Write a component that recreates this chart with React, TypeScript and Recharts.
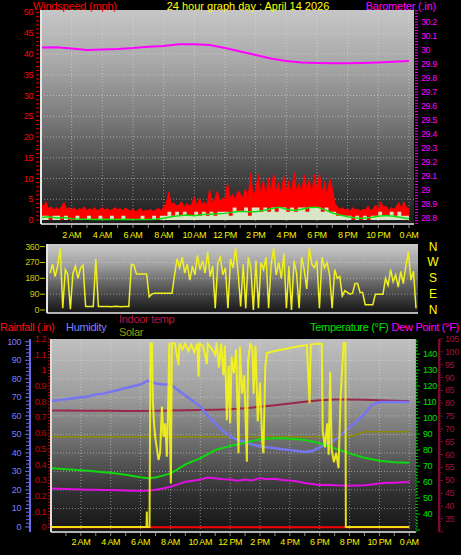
import React from 'react';
import { ComposedChart, Line, Area, XAxis, YAxis, CartesianGrid } from 'recharts';

const FONT = 'Arial, "Liberation Sans", Helvetica, sans-serif';

// ---------------- Panel 1: wind & barometer ----------------
// wind gust, every 10 minutes from 0:00 to 24:00 (mph)
const gustValues = [
  4.2, 3.0, 4.4, 2.6, 3.2, 2.4,
  3.0, 2.5, 3.2, 4.2, 2.6, 3.0,
  2.4, 3.0, 2.2, 2.8, 2.5, 3.2,
  2.2, 2.8, 2.4, 3.0, 2.2, 2.6,
  3.0, 2.4, 2.8, 2.2, 2.6, 3.0,
  2.4, 2.8, 2.2, 3.0, 2.5, 2.2,
  2.6, 2.0, 2.4, 2.8, 2.0, 2.4,
  2.2, 2.6, 2.0, 2.5, 2.8, 2.2,
  3.2, 4.0, 6.8, 3.6, 4.2, 3.4,
  3.6, 4.4, 3.0, 4.0, 3.4, 3.8,
  5.6, 3.4, 5.2, 3.8, 4.4, 3.6,
  7.4, 4.2, 5.0, 7.0, 4.6, 5.2,
  5.0, 8.8, 5.4, 6.2, 4.8, 7.0,
  6.4, 5.2, 7.6, 5.0, 11.2, 6.0,
  7.0, 11.0, 6.0, 9.6, 5.6, 10.2,
  6.8, 11.2, 7.0, 9.0, 5.8, 10.6,
  7.2, 9.4, 6.0, 11.4, 7.0, 8.8,
  6.6, 10.8, 7.4, 9.8, 6.2, 11.0,
  7.2, 11.2, 6.4, 9.2, 5.8, 10.0,
  7.6, 4.0, 3.2, 2.6, 3.0, 2.4,
  2.8, 2.2, 3.0, 2.4, 2.6, 2.2,
  2.6, 2.4, 3.4, 2.2, 2.8, 3.6,
  2.6, 4.4, 3.0, 3.4, 2.4, 3.0,
  2.6, 3.2, 4.2, 2.8, 4.4, 3.0,
  2.8,
];
// wind speed, every 15 minutes (mph)
const windSpeedValues = [
  1, 1, 0, 1, 1, 0, 1, 0, 0, 1, 0, 0, 1, 0, 0, 1,
  0, 0, 1, 0, 0, 1, 0, 0, 0, 0, 1, 0, 0, 1, 0, 1,
  1, 2, 1, 2, 1, 2, 1, 1, 2, 1, 2, 1, 2, 1, 2, 2,
  2, 1, 3, 2, 2, 3, 1, 3, 3, 2, 3, 2, 3, 2, 3, 3,
  2, 3, 2, 3, 3, 2, 3, 3, 3, 2, 3, 2, 2, 1, 1, 1,
  1, 0, 1, 0, 1, 0, 1, 1, 2, 1, 1, 2, 1, 2, 1, 1,
  1,
];
// average wind, every 30 minutes (mph)
const windAvgValues = [
  0.6, 0.8, 0.5, 0.6, 0.3, 0.2, 0.2, 0.1, 0.2, 0.1, 0.1, 0.2, 0.1, 0.1, 0.1, 0.2,
  0.4, 0.8, 1.0, 1.2, 1.0, 1.3, 1.4, 1.5, 1.6, 1.9, 2.1, 2.0, 2.0, 2.3, 2.7, 3.1,
  2.6, 2.3, 2.6, 3.0, 3.1, 2.5, 1.7, 1.2, 0.8, 0.5, 0.4, 0.6, 0.9, 1.1, 0.9, 0.6,
  0.3,
];
const baroTimes = [0, 1, 2, 3, 4, 5, 6, 7, 8, 9, 10, 11, 12, 13, 14, 15, 16, 17, 18, 19, 20, 21, 22, 23, 24];
const baroValues = [
  30.018, 30.02, 30.011, 30.0, 30.004, 30.007, 30.014, 30.024, 30.029, 30.041, 30.041, 30.036,
  30.014, 29.989, 29.964, 29.939, 29.921, 29.911, 29.907, 29.905, 29.905, 29.907, 29.911, 29.916, 29.921,
];

// ---------------- Panel 2: wind direction ----------------
// every 10 minutes (degrees)
const dirValues = [
  210, 260, 190, 250, 350, 10,
  230, 200, 5, 210, 250, 180,
  240, 255, 20, 20, 20, 20,
  290, 20, 20, 20, 20, 20,
  18, 20, 22, 20, 18, 20,
  20, 20, 260, 255, 205, 205,
  205, 205, 205, 75, 90, 95,
  95, 95, 95, 95, 95, 95,
  95, 200, 290, 240, 300, 210,
  260, 170, 250, 200, 310, 230,
  280, 210, 330, 190, 250, 10,
  270, 300, 200, 240, 10, 290,
  240, 355, 210, 20, 260, 10,
  300, 240, 0, 280, 10, 270,
  230, 300, 10, 260, 350, 200,
  270, 180, 320, 10, 250, 0,
  280, 210, 10, 300, 230, 120,
  355, 260, 240, 280, 10, 300,
  240, 270, 200, 10, 230, 180,
  190, 80, 110, 100, 90, 95,
  150, 150, 100, 100, 30, 30,
  30, 30, 90, 90, 90, 90,
  180, 140, 230, 160, 200, 130,
  220, 150, 250, 330, 170, 220,
  10,
];
const dirTicks = [0, 90, 180, 270, 360];
const dirLetters = ['N', 'E', 'S', 'W', 'N'];

// ---------------- Panel 3: climate ----------------
// every 30 minutes
const humidityValues = [
  68, 68.5, 69, 69.5, 70, 70.5, 71.5, 72, 73, 74, 75, 76, 77, 79, 77.5, 77,
  77, 74, 71, 68, 65, 60, 56, 52, 49, 47, 46, 44.5, 43.5, 43, 42.5, 42,
  41.5, 41, 40.5, 41, 43, 45, 47, 50, 54, 57, 61, 66, 67.5, 67.5, 67.5, 67.5,
  67.5,
];
const temperatureValues = [
  68.6, 68.3, 68, 67.7, 67.3, 67, 66.5, 66.1, 65.8, 65.2, 64.5, 63.8, 63, 62.4, 62.8, 64,
  65.4, 68, 71, 73, 74.8, 77.5, 80, 81.3, 82.5, 83.6, 84.6, 85.7, 86.7, 87, 87.3, 87.3,
  87.1, 86.8, 86.2, 85.3, 84.2, 82.7, 81, 79.5, 77.9, 76.5, 75.2, 74.2, 73.3, 72.8, 72.4, 72.2,
  72,
];
const dewPointValues = [
  56, 55.8, 55.6, 55.5, 55.3, 55.2, 55.1, 55, 55, 54.8, 54.7, 54.6, 54.6, 54.7, 55.2, 56,
  57, 58.5, 60.2, 60.8, 61.5, 62.8, 62.3, 61.8, 61.5, 60.8, 61.6, 61, 62.5, 61.7, 62, 61.2,
  61, 60.3, 59.4, 58.8, 58.2, 58.3, 58, 57.8, 57.7, 57.8, 58, 58.5, 59, 59.5, 59.6, 59.8,
  60,
];
// hourly
const indoorValues = [
  77.2, 77.2, 77.1, 77.1, 77.1, 77.0, 77.0, 77.1, 77.2, 77.3, 77.4, 77.5, 77.7,
  78.1, 78.6, 79.2, 79.9, 80.6, 81.2, 81.5, 81.5, 81.4, 81.2, 81.0, 80.8,
];
const solarLevelValues = [
  48.7, 48.7, 48.7, 48.7, 48.7, 48.7, 48.7, 48.7, 48.7, 48.7, 48.7, 48.7, 48.7,
  48.7, 48.7, 48.7, 48.7, 48.7, 48.7, 48.7, 48.7, 51.4, 51.4, 51.4, 51.4,
];
const rainTimes = [0, 24];
const rainValues = [0, 0];
const solarTimes = [
  0, 6.4, 6.42, 6.44, 6.6, 6.66, 6.76, 6.82, 6.9, 6.98, 7.1, 7.2, 7.31, 7.43, 7.54,
  7.65, 7.76, 7.87, 7.92, 7.97, 8.03, 8.1, 8.3, 8.54, 8.6, 8.8, 9.0, 9.2, 9.4, 9.6,
  9.8, 9.88, 9.95, 10.2, 10.44, 10.5, 10.8, 11.0, 11.1, 11.25, 11.4, 11.55, 11.65, 11.78, 11.9,
  12.0, 12.1, 12.25, 12.4, 12.56, 12.65, 12.8, 12.95, 13.12, 13.2, 13.35, 13.5, 13.57, 13.7, 13.85,
  14.0, 14.15, 14.23, 14.35, 14.46, 15, 15.5, 16, 16.5, 17.14, 17.32, 17.4, 17.8, 18.14, 18.2,
  18.35, 18.5, 18.6, 18.7, 18.8, 18.95, 19.1, 19.26, 19.4, 19.6, 19.72, 19.75, 24,
];
const solarValues = [
  0, 0, 83, 0, 0, 993, 990, 685, 560, 487, 420, 362, 400, 650, 487,
  560, 380, 740, 993, 500, 236, 993, 990, 874, 993, 960, 990, 950, 985, 945,
  990, 811, 990, 975, 880, 990, 960, 930, 995, 860, 990, 820, 980, 577, 870,
  560, 920, 830, 960, 398, 975, 720, 820, 352, 900, 993, 960, 720, 980, 570,
  780, 460, 398, 860, 939, 950, 958, 966, 974, 982, 668, 985, 990, 988, 520,
  430, 560, 390, 838, 418, 350, 400, 318, 700, 993, 993, 0, 0,
];

// ---------------- axis labels ----------------
const xLabelHours = [2, 4, 6, 8, 10, 12, 14, 16, 18, 20, 22, 24];
const xLabels = ['2 AM', '4 AM', '6 AM', '8 AM', '10 AM', '12 PM', '2 PM', '4 PM', '6 PM', '8 PM', '10 PM', '0 AM'];

// ---------------- helpers ----------------
const stepped = (values: number[], step: number) => values.map((v, i) => ({ t: i * step, v }));
const paired = (times: number[], values: number[]) => times.map((t, i) => ({ t, v: values[i] }));
const range = (from: number, to: number, step: number) => {
  const out: number[] = [];
  for (let k = Math.round(from / step); k <= Math.round(to / step); k++) out.push(+(k * step).toFixed(4));
  return out;
};

const gustData = stepped(gustValues, 1 / 6);
const windSpeedData = stepped(windSpeedValues, 0.25);
const windAvgData = stepped(windAvgValues, 0.5);
const baroData = paired(baroTimes, baroValues);
const dirData = stepped(dirValues, 1 / 6);
const humidityData = stepped(humidityValues, 0.5);
const temperatureData = stepped(temperatureValues, 0.5);
const dewPointData = stepped(dewPointValues, 0.5);
const indoorData = stepped(indoorValues, 1);
const solarLevelData = stepped(solarLevelValues, 1);
const rainData = paired(rainTimes, rainValues);
const solarData = paired(solarTimes, solarValues);

const hourTicks = range(1, 24, 1);
const xLabelMap: Record<number, string> = {};
xLabelHours.forEach((h, i) => { xLabelMap[h] = xLabels[i]; });

const windTicks = range(0, 50, 1);
const baroTicks = range(28.76, 30.28, 0.02);
const rainTicks = range(0, 1.2, 0.02);
const humTicks = range(0, 100, 2);
const tempTicks = range(30, 148, 2);
const indoorTicks = range(30, 105, 1);

const txt = { fontFamily: FONT, fontSize: 9, letterSpacing: -0.4 } as const;

const makeXTick = (labelOffset: number) => (p: any) => {
  const h = p.payload.value;
  const label = xLabelMap[h];
  return (
    <g>
      <line x1={p.x} x2={p.x} y1={p.y + 1} y2={p.y + 4} stroke="#8c8c8c" />
      {label && (
        <text x={p.x} y={p.y + labelOffset} textAnchor="middle" dominantBaseline="central" fill="#f2f200" {...txt}>
          {label}
        </text>
      )}
    </g>
  );
};

const windTick = (p: any) => {
  const v = p.payload.value;
  const major = v % 5 === 0;
  return (
    <g>
      <line x1={p.x - 5} x2={p.x - 2} y1={p.y} y2={p.y} stroke="#e00000" />
      {major && (
        <text x={p.x - 8} y={p.y} textAnchor="end" dominantBaseline="central" fill="#ff0000" {...txt}>{v}</text>
      )}
    </g>
  );
};

const baroTick = (p: any) => {
  const k = Math.round(p.payload.value * 100);
  const major = k % 10 === 0;
  return (
    <g>
      <line x1={p.x + 1} x2={p.x + 4} y1={p.y} y2={p.y} stroke="#ff00ff" />
      {major && (
        <text x={p.x + 7} y={p.y} dominantBaseline="central" fill="#ff00ff" {...txt}>{String(k / 100)}</text>
      )}
    </g>
  );
};

const dirTick = (p: any) => (
  <g>
    <line x1={p.x - 7} x2={p.x - 2} y1={p.y} y2={p.y} stroke="#c8c800" />
    <text x={p.x - 8} y={p.y} textAnchor="end" dominantBaseline="central" fill="#c8c800" {...txt}>{p.payload.value}</text>
  </g>
);

const dirLetterTick = (p: any) => {
  const idx = dirTicks.indexOf(p.payload.value);
  return (
    <text x={p.x + 15} y={p.y} textAnchor="middle" dominantBaseline="central" fill="#ffff00" fontFamily={FONT} fontSize={12}>
      {dirLetters[idx]}
    </text>
  );
};

const rainTick = (p: any) => {
  const k = Math.round(p.payload.value * 100);
  const major = k % 10 === 0;
  return (
    <g>
      <line x1={p.x - 3} x2={p.x - 1} y1={p.y} y2={p.y} stroke="#d00000" />
      {major && (
        <text x={p.x - 5} y={p.y} textAnchor="end" dominantBaseline="central" fill="#d00000" {...txt}>{String(k / 100)}</text>
      )}
    </g>
  );
};

const humTick = (p: any) => {
  const v = p.payload.value;
  const major = v % 10 === 0;
  return (
    <g>
      <line x1={p.x - (major ? 5 : 4)} x2={p.x} y1={p.y} y2={p.y} stroke="#7070ee" />
      {major && (
        <text x={p.x - 9} y={p.y} textAnchor="end" dominantBaseline="central" fill="#7c7cff" {...txt}>{v}</text>
      )}
    </g>
  );
};

const tempTick = (p: any) => {
  const v = p.payload.value;
  const major = v % 10 === 0;
  const labelled = major && v >= 40 && v <= 140;
  return (
    <g>
      <line x1={p.x} x2={p.x + (major ? 4 : 2)} y1={p.y} y2={p.y} stroke="#00d000" />
      {labelled && (
        <text x={p.x + 7} y={p.y} dominantBaseline="central" fill="#00e000" {...txt}>{v}</text>
      )}
    </g>
  );
};

const indoorTick = (p: any) => {
  const v = p.payload.value;
  const major = v % 5 === 0;
  const labelled = major && v >= 35;
  return (
    <g>
      <line x1={p.x} x2={p.x + (major ? 4 : 2)} y1={p.y} y2={p.y} stroke="#8a0a38" />
      {labelled && (
        <text x={p.x + 6} y={p.y} dominantBaseline="central" fill="#a0103c" {...txt}>{v}</text>
      )}
    </g>
  );
};

const abs: React.CSSProperties = { position: 'absolute', left: 0, top: 0 };
const gridStroke = { stroke: '#e6e6e6', strokeOpacity: 0.5, strokeDasharray: '1 2' };

export default function App() {
  return (
    <div style={{ position: 'absolute', left: 0, top: 0, width: 461, height: 555, background: '#000', overflow: 'hidden' }}>
      {/* Panel 1 */}
      <div style={abs}>
        <ComposedChart width={461} height={555} margin={{ top: 10, right: 0, bottom: 310, left: 0 }}>
          <defs>
            <linearGradient id="bg1" x1="0" y1="0" x2="0" y2="1">
              <stop offset="0%" stopColor="#c6c6c6" />
              <stop offset="25%" stopColor="#a8a8a8" />
              <stop offset="50%" stopColor="#7c7c7c" />
              <stop offset="75%" stopColor="#474747" />
              <stop offset="100%" stopColor="#1a1a1a" />
            </linearGradient>
          </defs>
          <CartesianGrid xAxisId="t1" yAxisId="wind" fill="url(#bg1)" {...gridStroke}
            horizontalValues={[5, 10, 15, 20, 25, 30, 35, 40, 45]} verticalValues={xLabelHours} />
          <XAxis xAxisId="t1" type="number" dataKey="t" domain={[0, 24.33]} allowDataOverflow ticks={hourTicks} interval={0}
            height={21} tickSize={0} tickMargin={0} tickLine={false} tick={makeXTick(11)} axisLine={{ stroke: '#b4b4b4', strokeWidth: 2 }} />
          <YAxis yAxisId="wind" orientation="left" width={41} type="number" domain={[-0.96, 50.6]} allowDataOverflow ticks={windTicks}
            interval={0} tickSize={0} tickMargin={0} tickLine={false} tick={windTick} axisLine={{ stroke: '#e4e4e4', strokeWidth: 2 }} />
          <YAxis yAxisId="baro" orientation="right" width={47} type="number" domain={[28.757, 30.286]} allowDataOverflow ticks={baroTicks}
            interval={0} tickSize={0} tickMargin={0} tickLine={false} tick={baroTick} axisLine={false} />
          <Area xAxisId="t1" yAxisId="wind" data={gustData} dataKey="v" type="linear" stroke="#ff0000" strokeWidth={1}
            fill="#ff0000" fillOpacity={1} isAnimationActive={false} dot={false} activeDot={false} />
          <Area xAxisId="t1" yAxisId="wind" data={windSpeedData} dataKey="v" type="stepAfter" stroke="none"
            fill="#d6f2d2" fillOpacity={0.95} isAnimationActive={false} dot={false} activeDot={false} />
          <Line xAxisId="t1" yAxisId="wind" data={windAvgData} dataKey="v" type="linear" stroke="#10e010" strokeWidth={1.5}
            isAnimationActive={false} dot={false} activeDot={false} />
          <Line xAxisId="t1" yAxisId="baro" data={baroData} dataKey="v" type="linear" stroke="#ff00ff" strokeWidth={2}
            isAnimationActive={false} dot={false} activeDot={false} />
        </ComposedChart>
      </div>

      {/* Panel 2 */}
      <div style={abs}>
        <ComposedChart width={461} height={555} margin={{ top: 244, right: 0, bottom: 240, left: 0 }}>
          <defs>
            <linearGradient id="bg2" x1="0" y1="0" x2="0" y2="1">
              <stop offset="0%" stopColor="#cacaca" />
              <stop offset="30%" stopColor="#a0a0a0" />
              <stop offset="55%" stopColor="#6a6a6a" />
              <stop offset="80%" stopColor="#383838" />
              <stop offset="100%" stopColor="#161616" />
            </linearGradient>
          </defs>
          <CartesianGrid xAxisId="t2" yAxisId="dir" fill="url(#bg2)" {...gridStroke} vertical={false} horizontalValues={[90, 180, 270]} />
          <XAxis xAxisId="t2" type="number" dataKey="t" domain={[-0.2, 24.13]} allowDataOverflow height={2} tick={false}
            tickLine={false} axisLine={{ stroke: '#b4b4b4', strokeWidth: 2 }} />
          <YAxis yAxisId="dir" orientation="left" width={47} type="number" domain={[-17, 375]} allowDataOverflow ticks={dirTicks}
            interval={0} tickSize={0} tickMargin={0} tickLine={false} tick={dirTick} axisLine={{ stroke: '#e4e4e4', strokeWidth: 2 }} />
          <YAxis yAxisId="dirR" orientation="right" width={43} type="number" domain={[-17, 375]} allowDataOverflow ticks={dirTicks}
            interval={0} tickSize={0} tickMargin={0} tickLine={false} tick={dirLetterTick} axisLine={false} />
          <Line xAxisId="t2" yAxisId="dir" data={dirData} dataKey="v" type="linear" stroke="#f0f020" strokeWidth={1.5}
            isAnimationActive={false} dot={false} activeDot={false} />
        </ComposedChart>
      </div>

      {/* Panel 3 */}
      <div style={abs}>
        <ComposedChart width={461} height={555} margin={{ top: 339, right: 0, bottom: 0, left: 0 }}>
          <defs>
            <linearGradient id="bg3" x1="0" y1="0" x2="0" y2="1">
              <stop offset="0%" stopColor="#c0c0c0" />
              <stop offset="30%" stopColor="#9c9c9c" />
              <stop offset="55%" stopColor="#6a6a6a" />
              <stop offset="80%" stopColor="#303030" />
              <stop offset="100%" stopColor="#141414" />
            </linearGradient>
          </defs>
          <CartesianGrid xAxisId="t3" yAxisId="b_hum" fill="url(#bg3)" {...gridStroke}
            horizontalValues={[10, 20, 30, 40, 50, 60, 70, 80, 90]} verticalValues={xLabelHours} />
          <XAxis xAxisId="t3" type="number" dataKey="t" domain={[0, 24.45]} allowDataOverflow ticks={hourTicks} interval={0}
            height={23} tickSize={0} tickMargin={0} tickLine={false} tick={makeXTick(10)} axisLine={{ stroke: '#b4b4b4', strokeWidth: 2 }} />
          <YAxis yAxisId="a_rain" orientation="left" width={21} type="number" domain={[-0.03, 1.2]} allowDataOverflow ticks={rainTicks}
            interval={0} tickSize={0} tickMargin={0} tickLine={false} tick={rainTick} axisLine={{ stroke: '#dcdcdc', strokeWidth: 2 }} />
          <YAxis yAxisId="b_hum" orientation="left" width={30} type="number" domain={[-2.7, 101.5]} allowDataOverflow ticks={humTicks}
            interval={0} tickSize={0} tickMargin={0} tickLine={false} tick={humTick} axisLine={{ stroke: '#6a6af0', strokeWidth: 2 }} />
          <YAxis yAxisId="a_temp" orientation="right" width={23} type="number" domain={[28.75, 149.4]} allowDataOverflow ticks={tempTicks}
            interval={0} tickSize={0} tickMargin={0} tickLine={false} tick={tempTick}
            axisLine={{ stroke: '#00d000', strokeWidth: 1, strokeDasharray: '1 2' }} />
          <YAxis yAxisId="b_indoor" orientation="right" width={22} type="number" domain={[29.9, 105]} allowDataOverflow ticks={indoorTicks}
            interval={0} tickSize={0} tickMargin={0} tickLine={false} tick={indoorTick} axisLine={{ stroke: '#7a0830', strokeWidth: 2 }} />
          <YAxis yAxisId="solar" hide type="number" domain={[-27, 1015]} allowDataOverflow />
          <Line xAxisId="t3" yAxisId="b_hum" data={solarLevelData} dataKey="v" type="linear" stroke="#8c8c00" strokeWidth={1.5}
            isAnimationActive={false} dot={false} activeDot={false} />
          <Line xAxisId="t3" yAxisId="b_indoor" data={indoorData} dataKey="v" type="linear" stroke="#9a2848" strokeWidth={2}
            isAnimationActive={false} dot={false} activeDot={false} />
          <Line xAxisId="t3" yAxisId="b_hum" data={humidityData} dataKey="v" type="linear" stroke="#7676f2" strokeWidth={2.5}
            isAnimationActive={false} dot={false} activeDot={false} />
          <Line xAxisId="t3" yAxisId="a_temp" data={temperatureData} dataKey="v" type="linear" stroke="#10d810" strokeWidth={2}
            isAnimationActive={false} dot={false} activeDot={false} />
          <Line xAxisId="t3" yAxisId="a_temp" data={dewPointData} dataKey="v" type="linear" stroke="#e010e0" strokeWidth={2}
            isAnimationActive={false} dot={false} activeDot={false} />
          <Line xAxisId="t3" yAxisId="a_rain" data={rainData} dataKey="v" type="linear" stroke="#ff0000" strokeWidth={2}
            isAnimationActive={false} dot={false} activeDot={false} />
          <Line xAxisId="t3" yAxisId="solar" data={solarData} dataKey="v" type="linear" stroke="#f6f615" strokeWidth={2}
            strokeOpacity={0.9} isAnimationActive={false} dot={false} activeDot={false} />
        </ComposedChart>
      </div>

      {/* titles and legend texts */}
      <svg style={abs} width={461} height={555}>
        <g fontFamily={FONT} fontSize={11}>
          <text x={33} y={6} dominantBaseline="central" fill="#ff0000" letterSpacing={-0.2}>Windspeed (mph)</text>
          <text x={248} y={6} textAnchor="middle" dominantBaseline="central" fill="#ffff00">24 hour graph day : April 14 2026</text>
          <text x={436} y={6} textAnchor="end" dominantBaseline="central" fill="#ff00ff" letterSpacing={-0.2}>Barometer (.in)</text>
          <text x={0} y={327} dominantBaseline="central" fill="#ff1010" letterSpacing={-0.3}>Rainfall (.in)</text>
          <text x={66} y={327} dominantBaseline="central" fill="#8080ff" letterSpacing={-0.3}>Humidity</text>
          <text x={119} y={319} dominantBaseline="central" fill="#b81848" letterSpacing={-0.3}>Indoor temp</text>
          <text x={119} y={332} dominantBaseline="central" fill="#9a9a00" letterSpacing={-0.3}>Solar</text>
          <text x={310} y={327} dominantBaseline="central" fill="#00e000" letterSpacing={-0.3}>Temperature (°F)</text>
          <text x={459} y={327} textAnchor="end" dominantBaseline="central" fill="#ff00ff" letterSpacing={-0.3}>Dew Point (°F)</text>
        </g>
      </svg>
    </div>
  );
}
